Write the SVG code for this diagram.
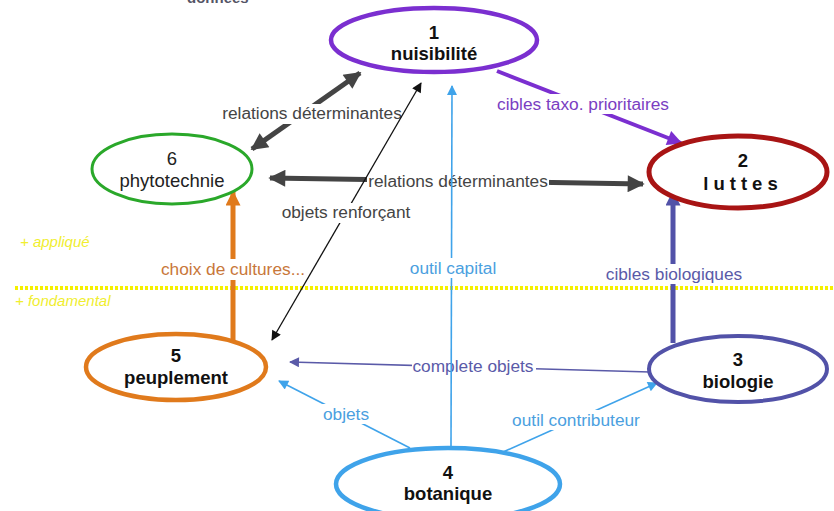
<svg xmlns="http://www.w3.org/2000/svg" width="834" height="511" viewBox="0 0 834 511">
  <style>
    .node { fill: #ffffff; }
    .num { font-family: "Liberation Sans", Arial, sans-serif; font-size: 18.5px; font-weight: bold; fill: #111111; text-anchor: middle; }
    .title { font-family: "Liberation Sans", Arial, sans-serif; font-size: 18.5px; font-weight: bold; fill: #111111; text-anchor: middle; }
    .plain { font-weight: normal; fill: #222222; }
    .lbl { font-family: "Liberation Sans", Arial, sans-serif; font-size: 17.3px; text-anchor: middle; }
    .gap { fill: #ffffff; }
    .zone { font-family: "Liberation Sans", Arial, sans-serif; font-size: 15px; font-style: italic; fill: #f0ee30; }
  </style>
  <defs>
    <marker id="hGray" viewBox="0 0 10 10" refX="9" refY="5" markerUnits="userSpaceOnUse" markerWidth="20" markerHeight="17" orient="auto-start-reverse">
      <path d="M0,0 L10,5 L0,10 z" fill="#444444"/>
    </marker>
    <marker id="hBlack" viewBox="0 0 10 10" refX="9" refY="5" markerUnits="userSpaceOnUse" markerWidth="12" markerHeight="10" orient="auto-start-reverse">
      <path d="M0,0 L10,5 L0,10 z" fill="#111111"/>
    </marker>
    <marker id="hSky" viewBox="0 0 10 10" refX="9" refY="5" markerUnits="userSpaceOnUse" markerWidth="14" markerHeight="10" orient="auto">
      <path d="M0,0 L10,5 L0,10 z" fill="#3fa3ea"/>
    </marker>
    <marker id="hPurple" viewBox="0 0 10 10" refX="9" refY="5" markerUnits="userSpaceOnUse" markerWidth="18" markerHeight="15" orient="auto">
      <path d="M0,0 L10,5 L0,10 z" fill="#7b2fd0"/>
    </marker>
    <marker id="hSlate" viewBox="0 0 10 10" refX="9" refY="5" markerUnits="userSpaceOnUse" markerWidth="18" markerHeight="15" orient="auto">
      <path d="M0,0 L10,5 L0,10 z" fill="#5252a8"/>
    </marker>
    <marker id="hSlateThin" viewBox="0 0 10 10" refX="9" refY="5" markerUnits="userSpaceOnUse" markerWidth="14" markerHeight="10" orient="auto">
      <path d="M0,0 L10,5 L0,10 z" fill="#5a5aa8"/>
    </marker>
    <marker id="hOrange" viewBox="0 0 10 10" refX="9" refY="5" markerUnits="userSpaceOnUse" markerWidth="18" markerHeight="15" orient="auto">
      <path d="M0,0 L10,5 L0,10 z" fill="#e07a1c"/>
    </marker>
  </defs>

  <rect width="834" height="511" fill="#ffffff"/>

  <!-- heading, running off the top edge -->
  <text x="187" y="3" font-family="Liberation Sans, Arial, sans-serif" font-size="15" font-weight="bold" fill="#555566">données</text>

  <!-- boundary between applied and fundamental -->
  <g id="zones">
    <line x1="15" y1="288" x2="834" y2="288" stroke="#f5f000" stroke-width="4" stroke-dasharray="3 2"/>
    <text class="zone" x="20" y="247">+ appliqué</text>
    <text class="zone" x="15" y="306">+ fondamental</text>
  </g>

  <g id="connectors">
    <!-- 1 <-> 6 -->
    <line x1="252" y1="149" x2="360" y2="73" stroke="#444444" stroke-width="5" marker-start="url(#hGray)" marker-end="url(#hGray)"/>
    <rect class="gap" x="220" y="104" width="184" height="20"/>
    <text class="lbl" x="312" y="119" fill="#444444">relations déterminantes</text>

    <!-- 6 <-> 2 -->
    <line x1="270" y1="178" x2="643" y2="184" stroke="#444444" stroke-width="5" marker-start="url(#hGray)" marker-end="url(#hGray)"/>
    <rect class="gap" x="367" y="172" width="182" height="19"/>
    <text class="lbl" x="458" y="187" fill="#444444">relations déterminantes</text>

    <!-- 5 <-> 1 -->
    <line x1="272" y1="340" x2="421" y2="83" stroke="#111111" stroke-width="1.3" marker-start="url(#hBlack)" marker-end="url(#hBlack)"/>
    <rect class="gap" x="336" y="203" width="20" height="20"/>
    <text class="lbl" x="346" y="218" fill="#444444">objets renforçant</text>

    <!-- 1 -> 2 -->
    <line x1="497" y1="71" x2="681" y2="143" stroke="#7b2fd0" stroke-width="4" marker-end="url(#hPurple)"/>
    <rect class="gap" x="540" y="94" width="90" height="20"/>
    <text class="lbl" x="583" y="110" fill="#7a3ec2">cibles taxo. prioritaires</text>

    <!-- 3 -> 2 -->
    <line x1="673" y1="343" x2="673" y2="192" stroke="#5252a8" stroke-width="5" marker-end="url(#hSlate)"/>
    <rect class="gap" x="660" y="264" width="26" height="20"/>
    <text class="lbl" x="674" y="280" fill="#5a5aa8">cibles biologiques</text>

    <!-- 5 -> 6 -->
    <line x1="233" y1="340" x2="233" y2="192" stroke="#e07a1c" stroke-width="5" marker-end="url(#hOrange)"/>
    <rect class="gap" x="222" y="259" width="22" height="21"/>
    <text class="lbl" x="233" y="275" fill="#c8773a">choix de cultures...</text>

    <!-- 3 -> 5 -->
    <line x1="650" y1="372" x2="290" y2="362" stroke="#5a5aa8" stroke-width="1.6" marker-end="url(#hSlateThin)"/>
    <rect class="gap" x="412" y="358" width="124" height="18"/>
    <text class="lbl" x="473" y="372" fill="#5a5aa8">complete objets</text>

    <!-- 4 -> 1 -->
    <line x1="451" y1="448" x2="452" y2="86" stroke="#3fa3ea" stroke-width="1.6" marker-end="url(#hSky)"/>
    <rect class="gap" x="440" y="258" width="24" height="20"/>
    <text class="lbl" x="453" y="274" fill="#4b9fe0">outil capital</text>

    <!-- 4 -> 5 -->
    <line x1="410" y1="448" x2="279" y2="381" stroke="#3fa3ea" stroke-width="1.6" marker-end="url(#hSky)"/>
    <rect class="gap" x="320" y="404" width="54" height="20"/>
    <text class="lbl" x="346" y="420" fill="#4b9fe0">objets</text>

    <!-- 4 -> 3 -->
    <line x1="503" y1="452" x2="657" y2="383" stroke="#3fa3ea" stroke-width="1.6" marker-end="url(#hSky)"/>
    <rect class="gap" x="508" y="410" width="136" height="20"/>
    <text class="lbl" x="576" y="426" fill="#4b9fe0">outil contributeur</text>
  </g>

  <g id="n1">
    <ellipse class="node" cx="434" cy="40" rx="103" ry="32" stroke="#7b2fd0" stroke-width="4.5"/>
    <text class="num" x="434" y="39">1</text>
    <text class="title" x="434" y="60">nuisibilité</text>
  </g>

  <g id="n2">
    <ellipse class="node" cx="738" cy="172" rx="89" ry="36" stroke="#a81414" stroke-width="5"/>
    <text class="num" x="743" y="167">2</text>
    <text class="title" x="743" y="190" letter-spacing="5">luttes</text>
  </g>

  <g id="n3">
    <ellipse class="node" cx="738" cy="369" rx="89" ry="33" stroke="#5252a8" stroke-width="4"/>
    <text class="num" x="738" y="366">3</text>
    <text class="title" x="738" y="388">biologie</text>
  </g>

  <g id="n4">
    <ellipse class="node" cx="448" cy="484" rx="112" ry="36" stroke="#3fa3ea" stroke-width="4.5"/>
    <text class="num" x="448" y="479">4</text>
    <text class="title" x="448" y="500">botanique</text>
  </g>

  <g id="n5">
    <ellipse class="node" cx="176" cy="367" rx="90" ry="33" stroke="#e07a1c" stroke-width="4.5"/>
    <text class="num" x="176" y="362">5</text>
    <text class="title" x="176" y="384">peuplement</text>
  </g>

  <g id="n6">
    <ellipse class="node" cx="172" cy="169" rx="80" ry="35" stroke="#2aa82a" stroke-width="3"/>
    <text class="num plain" x="172" y="165">6</text>
    <text class="title plain" x="172" y="187">phytotechnie</text>
  </g>
</svg>
